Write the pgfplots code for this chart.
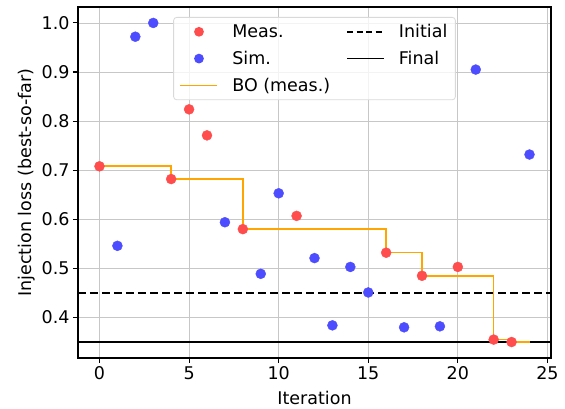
\documentclass[border=0pt]{standalone}
\usepackage{pgfplots}
\pgfplotsset{compat=1.18}
\usepackage{fontspec}
\setmainfont{DejaVu Sans}
\definecolor{measred}{RGB}{255,77,77}
\definecolor{simblue}{RGB}{77,77,255}
\definecolor{boorange}{RGB}{255,165,0}
\newcommand{\chartfont}{\fontsize{17.5}{21}\selectfont}
\pgfplotsset{
  markleg/.style={legend image code/.code={\fill[##1, draw=none, fill opacity=1] (18.5pt,0pt) circle (4.9pt);}},
  lineleg/.style={legend image code/.code={\draw[##1, line width=1.7pt, draw opacity=1] (0pt,0pt) -- (37pt,0pt);}},
}
\begin{document}
\begin{tikzpicture}
\begin{axis}[
  scale only axis, width=473pt, height=351pt,
  xmin=-1.2, xmax=25.2, ymin=0.3175, ymax=1.0325,
  xtick={0,5,10,15,20,25}, ytick={0.4,0.5,0.6,0.7,0.8,0.9,1.0},
  yticklabel style={/pgf/number format/.cd, fixed, fixed zerofill, precision=1},
  /pgf/number format/assume math mode=true,
  grid=major, grid style={color=black!22, line width=0.8pt},
  axis line style={line width=1.1pt},
  tick align=outside, tick pos=left, major tick length=5pt,
  tick style={black, line width=1.1pt},
  tick label style={font=\chartfont},
  label style={font=\chartfont},
  xlabel={Iteration}, ylabel={Injection loss (best-so-far)},
  xlabel style={yshift=-5pt},
  legend columns=2,
  legend style={at={(0.5,0.9715)}, anchor=north, draw=black!15, rounded corners=3pt,
    fill=white, fill opacity=0.8, text opacity=1, line width=0.8pt,
    font=\chartfont,
    /tikz/every odd column/.append style={column sep=12pt},
    /tikz/every even column/.append style={column sep=14pt},
    inner xsep=6pt, inner ysep=5pt, row sep=8pt},
  legend cell align=left,
]
\addlegendimage{fill=measred, markleg}
\addlegendentry{Meas.}
\addlegendimage{draw=black, dash pattern=on 6pt off 3.5pt, lineleg}
\addlegendentry{Initial}
\addlegendimage{fill=simblue, markleg}
\addlegendentry{Sim.}
\addlegendimage{draw=black, dash pattern=on 37pt off 2pt, lineleg}
\addlegendentry{Final}
\addlegendimage{draw=boorange, dash pattern=on 37pt off 2pt, lineleg}
\addlegendentry{BO (meas.)}

\addplot[black, line width=1.6pt, dash pattern=on 8pt off 4pt, forget plot] coordinates {(-1.2,0.45) (25.2,0.45)};
\addplot[black, line width=1.6pt, forget plot] coordinates {(-1.2,0.35) (25.2,0.35)};

\addplot[only marks, mark=*, mark size=5pt, color=measred, forget plot] coordinates {
(0,0.708) (4,0.682) (5,0.824) (6,0.771) (8,0.580) (11,0.607) (16,0.532) (18,0.485) (20,0.503) (22,0.355) (23,0.350)};
\addplot[only marks, mark=*, mark size=5pt, color=simblue, forget plot] coordinates {
(1,0.546) (2,0.972) (3,1.000) (7,0.594) (9,0.489) (10,0.653) (12,0.521) (13,0.384) (14,0.503) (15,0.451) (17,0.380) (19,0.382) (21,0.905) (24,0.732)};

\addplot[const plot, boorange, line width=1.6pt, forget plot] coordinates {
(0,0.708) (4,0.682) (8,0.580) (16,0.532) (18,0.485) (22,0.355) (23,0.350) (24,0.350)};
\end{axis}
\path (current axis.south west) ++(-78pt,-50pt) coordinate (bbA);
\path (current axis.north east) ++(14pt,7pt) coordinate (bbB);
\end{tikzpicture}
\end{document}
